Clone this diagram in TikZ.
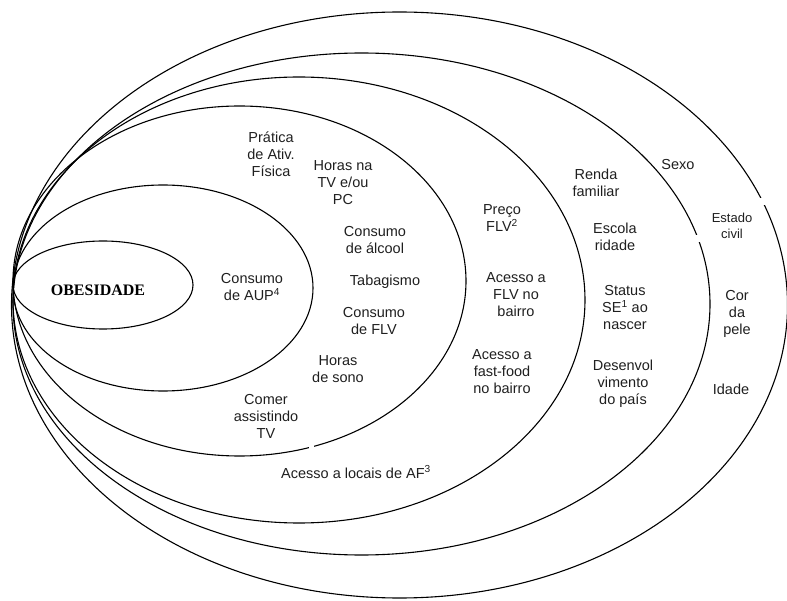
\documentclass[tikz,border=0pt]{standalone}
\usepackage{fontspec}
\setmainfont{Liberation Sans}
\newfontfamily\titlefont{Liberation Serif}
\begin{document}
\begin{tikzpicture}[x=1pt,y=-1pt,
  ring/.style={draw=black, line width=1.1pt},
  lbl/.style={align=center, inner sep=0pt, text=black!88,
    font=\fontsize{14.5}{17}\selectfont},
  small/.style={lbl, font=\fontsize{13}{15.5}\selectfont},
  gap/.style={fill=white, draw=none}]
\useasboundingbox (0,0) rectangle (787,601);

% nested levels, innermost first
\draw[ring] (103,285)   ellipse [x radius=90pt,    y radius=44pt];
\draw[ring] (163,288)   ellipse [x radius=150pt,   y radius=103pt];
\draw[ring] (239.5,281) ellipse [x radius=226.5pt, y radius=175pt];
\draw[ring] (299,300)   ellipse [x radius=286pt,   y radius=223pt];
\draw[ring] (361.5,304) ellipse [x radius=348.5pt, y radius=251pt];
\draw[ring] (399.5,305) ellipse [x radius=388pt,   y radius=293pt];

% small breaks in the rings
\fill[gap] (692,235) rectangle (702,242);
\fill[gap] (755,198) rectangle (772,205);
\fill[gap] (309,441) rectangle (314,451);

% centre
\node[inner sep=0pt, font=\titlefont\bfseries\fontsize{16}{18}\selectfont]
  (obes) at (98,290) {OBESIDADE};

% individual level
\node[lbl] (aup)    at (252,287) {Consumo\\de AUP\textsuperscript{4}};

% behaviours
\node[lbl] (ativ)    at (271,154) {Prática\\de Ativ.\\Física};
\node[lbl] (horastv) at (343,183) {Horas na\\TV e/ou\\PC};
\node[lbl] (alcool)  at (375,240) {Consumo\\de álcool};
\node[lbl] (tabaco)  at (385,282) {Tabagismo};
\node[lbl] (flv)     at (374,321) {Consumo\\de FLV};
\node[lbl] (sono)    at (338,369) {Horas\\de sono};
\node[lbl] (comer)   at (266,416) {Comer\\assistindo\\TV};

% neighbourhood
\node[lbl] (locais) at (356,472) {Acesso a locais de AF\textsuperscript{3}};
\node[lbl] (preco)  at (502,218) {Preço\\FLV\textsuperscript{2}};
\node[lbl] (acflv)  at (516,295) {Acesso a\\FLV no\\bairro};
\node[lbl] (fast)   at (502,372) {Acesso a\\fast-food\\no bairro};

% socioeconomic
\node[lbl] (renda)  at (596,183) {Renda\\familiar};
\node[lbl] (escola) at (615,237) {Escola\\ridade};
\node[lbl] (status) at (625,308) {Status\\SE\textsuperscript{1} ao\\nascer};
\node[lbl] (desenv) at (623,384) {Desenvol\\vimento\\do país};

% demographic
\node[lbl]   (sexo)   at (678,165) {Sexo};
\node[small] (estado) at (732,226) {Estado\\civil};
\node[lbl]   (cor)    at (737,314) {Cor\\da\\pele};
\node[lbl]   (idade)  at (731,389) {Idade};
\end{tikzpicture}
\end{document}
